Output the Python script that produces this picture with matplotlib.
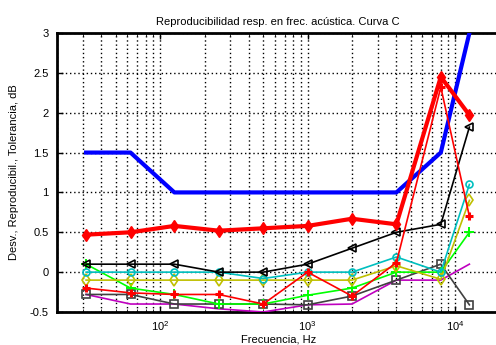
import matplotlib
matplotlib.use("Agg")
import matplotlib.pyplot as plt
from matplotlib.ticker import LogLocator, NullFormatter, LogFormatterMathtext

plt.rcParams['font.family'] = ['Liberation Sans', 'DejaVu Sans']
plt.rcParams['mathtext.fontset'] = 'custom'
plt.rcParams['mathtext.rm'] = 'Liberation Sans'

freqs = [31.5, 63, 125, 250, 500, 1000, 2000, 4000, 8000, 12500]

tolerancia = [1.5, 1.5, 1.0, 1.0, 1.0, 1.0, 1.0, 1.0, 1.5, 3.0]
reproducib = [0.47, 0.5, 0.58, 0.52, 0.55, 0.58, 0.67, 0.6, 2.45, 1.97]
desv_red = [-0.2, -0.26, -0.28, -0.28, -0.4, 0.0, -0.3, 0.12, 2.32, 0.7]
desv_black = [0.1, 0.1, 0.1, 0.0, 0.0, 0.1, 0.3, 0.5, 0.6, 1.82]
desv_cyan = [0.0, 0.0, 0.0, 0.0, -0.08, 0.0, 0.0, 0.19, 0.0, 1.1]
desv_olive = [-0.1, -0.1, -0.1, -0.1, -0.1, -0.1, -0.1, 0.08, -0.09, 0.9]
desv_green = [0.1, -0.2, -0.28, -0.4, -0.4, -0.29, -0.2, 0.0, 0.0, 0.5]
desv_gray = [-0.28, -0.28, -0.4, -0.4, -0.4, -0.41, -0.3, -0.1, 0.1, -0.41]
desv_magenta = [-0.28, -0.4, -0.4, -0.46, -0.5, -0.41, -0.4, -0.1, -0.1, 0.1]

title = "Reproducibilidad resp. en frec. acústica. Curva C"
xlabel = "Frecuencia, Hz"
ylabel = "Desv., Reproducibil., Tolerancia, dB"

fig = plt.figure(figsize=(4.96, 3.45), dpi=100)
W, H = 496, 345
ax = fig.add_axes([57 / W, 1 - 312 / H, 442.5 / W, (312 - 33) / H])

ax.plot(freqs, tolerancia, color=(0, 0, 1), lw=3.0, zorder=3)
ax.plot(freqs, desv_magenta, color=(0.75, 0, 0.75), lw=1.2, zorder=3)
ax.plot(freqs, desv_gray, color=(0.25, 0.25, 0.25), lw=1.2, marker='s',
        ms=5.5, mfc='none', mew=1.2, zorder=3)
ax.plot(freqs, desv_green, color=(0, 1, 0), lw=1.2, marker='+',
        ms=7, mew=1.4, zorder=3)
ax.plot(freqs, desv_olive, color=(0.75, 0.75, 0), lw=1.2, marker='d',
        ms=6, mfc='none', mew=1.2, zorder=3)
ax.plot(freqs, desv_cyan, color=(0, 0.75, 0.75), lw=1.2, marker='o',
        ms=5, mfc='none', mew=1.2, zorder=3)
ax.plot(freqs, desv_black, color='black', lw=1.2, marker='<',
        ms=6, mfc='none', mew=1.2, zorder=3)
ax.plot(freqs, desv_red, color=(1, 0, 0), lw=1.2, marker='+',
        ms=6, mew=2.2, zorder=4)
ax.plot(freqs, reproducib, color=(1, 0, 0), lw=3.0, marker='d',
        ms=6.5, mfc=(1, 0, 0), zorder=5)

ax.set_xscale('log')
ax.set_xlim(20, 20000)
ax.set_ylim(-0.5, 3)
ax.set_yticks([-0.5, 0, 0.5, 1, 1.5, 2, 2.5, 3])
ax.set_yticklabels(['-0.5', '0', '0.5', '1', '1.5', '2', '2.5', '3'])
ax.xaxis.set_major_locator(LogLocator(base=10, numticks=10))
ax.xaxis.set_minor_locator(LogLocator(base=10, subs=range(2, 10), numticks=20))
ax.xaxis.set_minor_formatter(NullFormatter())
ax.xaxis.set_major_formatter(LogFormatterMathtext())

ax.grid(True, which='major', axis='both', color='black', linestyle=(0, (1, 2)), lw=1.0)
ax.grid(True, which='minor', axis='x', color='black', linestyle=(0, (1, 2)), lw=1.0)
ax.set_axisbelow(True)

for s in ['left', 'bottom', 'top']:
    ax.spines[s].set_linewidth(2)
ax.spines['right'].set_visible(False)

ax.tick_params(axis='both', which='both', direction='in', labelsize=8,
               colors='black', top=True)
ax.tick_params(axis='both', which='major', length=4, width=1)
ax.tick_params(axis='x', which='minor', length=2)
ax.tick_params(axis='x', which='major', pad=5)
ax.tick_params(axis='y', which='major', pad=6)

ax.set_title(title, fontsize=8, pad=6)
ax.set_xlabel(xlabel, fontsize=8, labelpad=1)
ax.set_ylabel(ylabel, fontsize=8, labelpad=8)

fig.savefig('out.png', dpi=100)
